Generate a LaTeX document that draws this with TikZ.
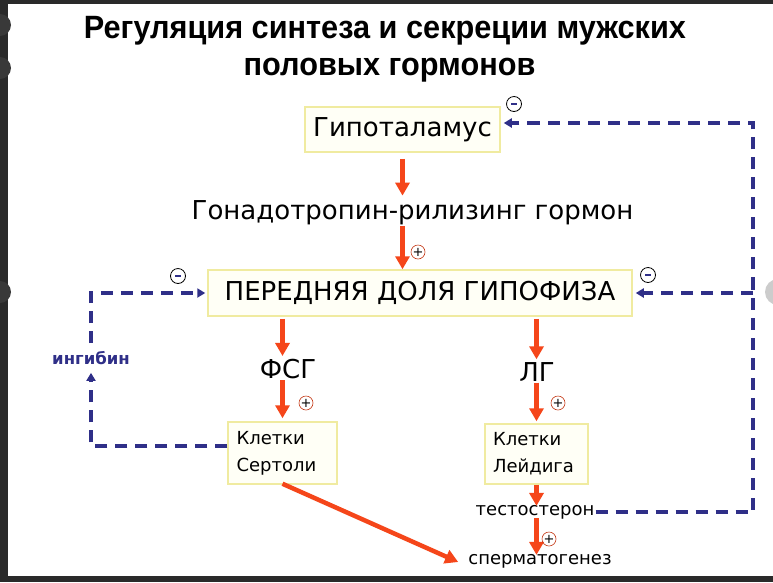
\documentclass[tikz,border=0pt]{standalone}
\usepackage{fontspec}
\setmainfont{DejaVu Sans}
\newfontfamily\titlefont{Liberation Sans}
\usetikzlibrary{arrows.meta,calc}
\definecolor{redar}{HTML}{F5461A}
\definecolor{fbblue}{HTML}{2F2F88}
\definecolor{boxline}{HTML}{F0EBA0}
\definecolor{boxfill}{HTML}{FFFFF6}
\definecolor{frame}{HTML}{2A2A2A}
\tikzset{
  hbox/.style={draw=boxline,fill=boxfill,line width=1.5pt,inner sep=0pt},
  bigtxt/.style={font=\fontsize{26}{28}\selectfont,inner sep=1pt},
  smtxt/.style={font=\fontsize{18}{27}\selectfont,inner sep=1pt},
  ttl/.style={font=\titlefont\bfseries\fontsize{31}{36}\selectfont,anchor=base,inner sep=0pt},
  redarr/.style={draw=redar,line width=4.5pt,-{Triangle[width=14pt,length=13pt]}},
  fb/.style={draw=fbblue,line width=3.3pt,dash pattern=on 12pt off 8pt},
  fbtip/.style={-{Triangle[width=9pt,length=8pt]}},
  plusc/.style={circle,draw=redar!80!black,line width=0.6pt,minimum size=14pt,inner sep=0pt,font=\fontsize{13}{13}\selectfont},
  minusc/.style={circle,draw=black,line width=0.8pt,minimum size=15pt,inner sep=0pt},
  inhtxt/.style={font=\bfseries\fontsize{16.5}{18}\selectfont,text=fbblue,inner sep=1pt}
}
\begin{document}
\begin{tikzpicture}[x=1pt,y=-1pt]
\useasboundingbox (0,0) rectangle (773,582);
\fill[white] (0,0) rectangle (773,582);
% viewer frame
\fill[frame] (0,0) rectangle (8,582);
\fill[frame] (0,0) rectangle (773,4);
\fill[frame] (0,576) rectangle (773,582);
\begin{scope}
\clip (0,0) rectangle (773,582);
\fill[gray!45!black] (0,25) circle (11);
\fill[gray!45!black] (0,68) circle (11);
\fill[gray!45!black] (0,292) circle (11);
\fill[gray!40] (778,292) circle (13);
\end{scope}
% title
\node[ttl] (title1) at (385,38) {\scalebox{0.99}[1.04]{Регуляция синтеза и секреции мужских}};
\node[ttl] (title2) at (389.5,75) {\scalebox{0.99}[1.04]{половых гормонов}};
% nodes
\node[hbox,bigtxt,minimum width=195pt,minimum height=45pt] (hyp) at (402.5,129.5) {Гипоталамус};
\node[bigtxt] (grh) at (412.5,213) {Гонадотропин-рилизинг гормон};
\node[hbox,bigtxt,minimum width=424pt,minimum height=46pt] (pit) at (420,293) {ПЕРЕДНЯЯ ДОЛЯ ГИПОФИЗА};
\node[bigtxt] (fsg) at (288,369) {ФСГ};
\node[bigtxt] (lg) at (537,372) {ЛГ};
\node[hbox,smtxt,text width=92pt,inner xsep=8.5pt,minimum height=62pt,align=left] (ser) at (282.5,453) {Клетки\\Сертоли};
\node[hbox,smtxt,text width=87pt,inner xsep=8pt,minimum height=60pt,align=left] (ley) at (536.5,454) {Клетки\\Лейдига};
\node[smtxt] (tes) at (535,512) {тестостерон};
\node[smtxt] (spe) at (540,561) {сперматогенез};
\node[inhtxt] (inh) at (91,358) {ингибин};
% red arrows
\draw[redarr] ([yshift=-6pt]hyp.south) -- ([yshift=4pt]grh.north -| hyp.south);
\draw[redarr] (grh.south -| hyp.south) -- (pit.north -| hyp.south);
\draw[redarr] ([yshift=-2pt]pit.south -| ser.north) -- ([yshift=2pt]fsg.north -| ser.north);
\draw[redarr] ([yshift=-2pt]pit.south -| ley.north) -- ([yshift=2pt]lg.north -| ley.north);
\draw[redarr] (fsg.south -| ser.north) -- ([yshift=3pt]ser.north);
\draw[redarr] (lg.south -| ley.north) -- ([yshift=2pt]ley.north);
\draw[redarr] (ley.south) -- ([yshift=-2pt]tes.north -| ley.south);
\draw[redarr] ([yshift=2pt]tes.south -| ley.south) -- ([yshift=-2pt]spe.north -| ley.south);
\draw[redarr] ([yshift=1pt]ser.south) -- ([xshift=-9pt,yshift=-1pt]spe.west);
% plus signs
\node[plusc] (p1) at (418,252) {+};
\node[plusc] (p2) at (306,403) {+};
\node[plusc] (p3) at (558,403) {+};
\node[plusc] (p4) at (549,539) {+};
% minus signs
\node[minusc] (m1) at (514,104) {\color{fbblue}\rule{6pt}{1.6pt}};
\node[minusc] (m2) at (178,276) {\color{fbblue}\rule{6pt}{1.6pt}};
\node[minusc] (m3) at (648,275) {\color{fbblue}\rule{6pt}{1.6pt}};
% feedback
\coordinate (rc) at (753,123);
\draw[fb,fbtip] ([yshift=7pt]ser.west) -| ([yshift=-7pt]inh.south);
\draw[fb,fbtip] ([yshift=7pt]inh.north) |- ([xshift=-2pt]pit.west);
\draw[fb,fbtip] (tes.east) -| (rc) -- ([xshift=3pt]rc -| hyp.east);
\draw[fb,fbtip] (pit.east -| rc) -- ([xshift=3pt]pit.east);
\end{tikzpicture}
\end{document}
